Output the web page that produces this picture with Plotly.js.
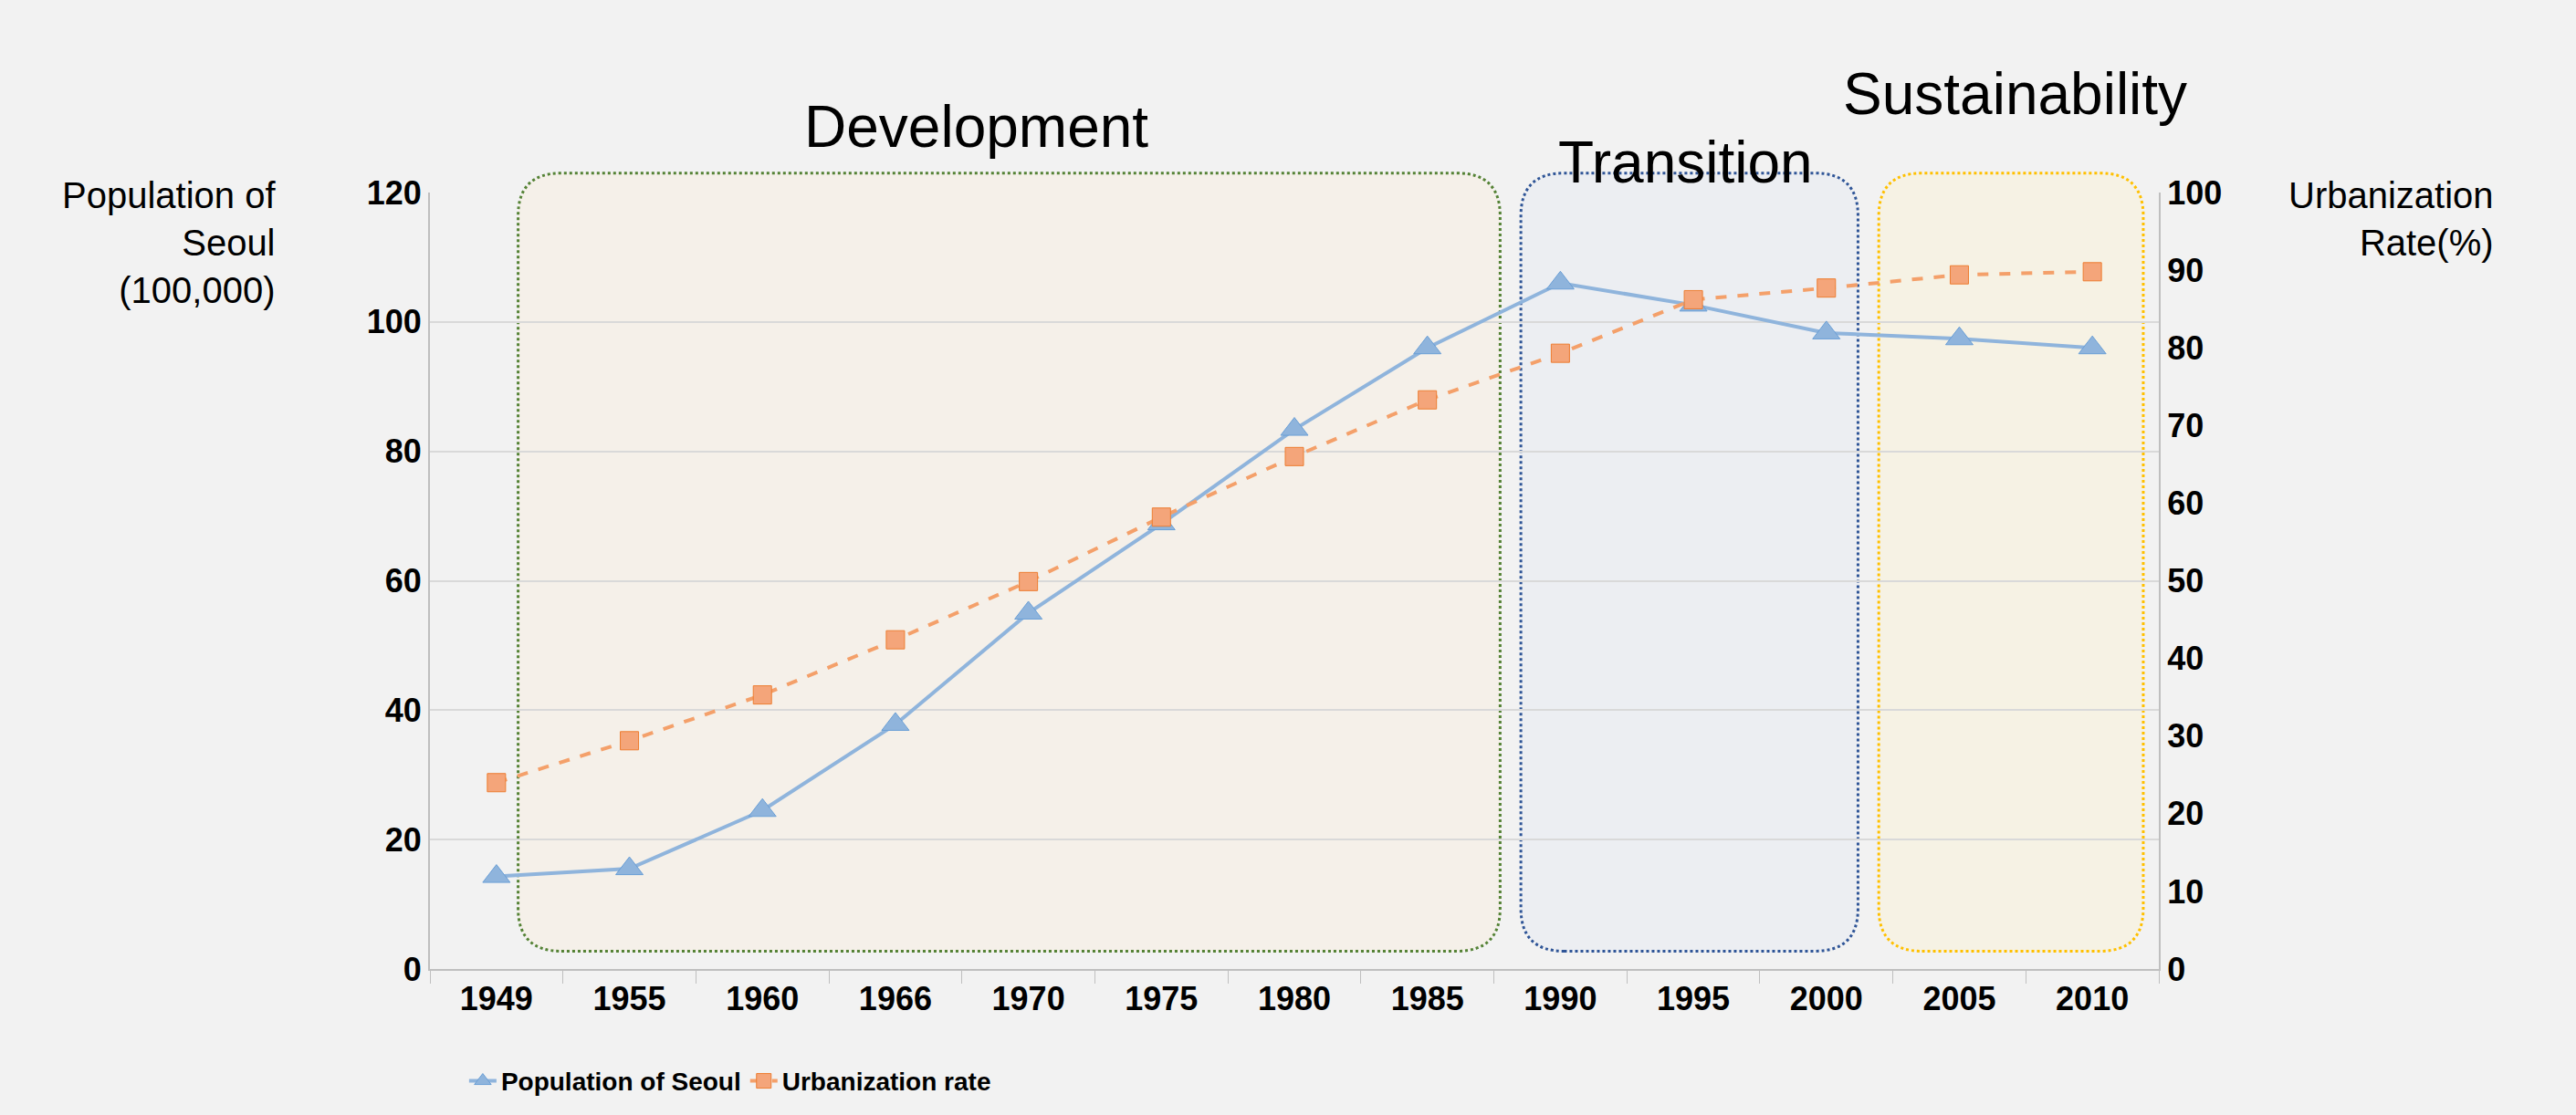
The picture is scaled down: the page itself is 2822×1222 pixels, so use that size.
<!DOCTYPE html>
<html>
<head>
<meta charset="utf-8">
<script src="https://cdn.plot.ly/plotly-3.0.1.min.js"></script>
<style>body{margin:0;background:#f2f2f2;}</style>
</head>
<body>
<div id="chart" style="width:2822px;height:1222px;"></div>
<script>
var years = ['1949','1955','1960','1966','1970','1975','1980','1985','1990','1995','2000','2005','2010'];
var population = [14.3, 15.5, 24.5, 37.8, 55, 68.8, 83.4, 96, 106, 102.6, 98.3, 97.4, 96];
var urbanRate = [24, 29.4, 35.3, 42.4, 49.9, 58.2, 66, 73.3, 79.3, 86.2, 87.7, 89.4, 89.8];

function roundBox(x0, x1, y0, y1, fill, line) {
  var rx = 0.025, ry = 0.055;
  var p = 'M ' + (x0 + rx) + ' ' + y0 + ' L ' + (x1 - rx) + ' ' + y0 +
    ' Q ' + x1 + ' ' + y0 + ' ' + x1 + ' ' + (y0 + ry) +
    ' L ' + x1 + ' ' + (y1 - ry) + ' Q ' + x1 + ' ' + y1 + ' ' + (x1 - rx) + ' ' + y1 +
    ' L ' + (x0 + rx) + ' ' + y1 + ' Q ' + x0 + ' ' + y1 + ' ' + x0 + ' ' + (y1 - ry) +
    ' L ' + x0 + ' ' + (y0 + ry) + ' Q ' + x0 + ' ' + y0 + ' ' + (x0 + rx) + ' ' + y0 + ' Z';
  return {type: 'path', xref: 'paper', yref: 'paper', path: p, layer: 'below',
    fillcolor: fill, line: {color: line, width: 3, dash: 'dot'}};
}

var data = [{
  x: years, y: population, name: 'Population of Seoul', type: 'scatter', mode: 'lines+markers',
  line: {color: '#8fb4dc', width: 4},
  marker: {symbol: 'triangle-up', size: 26, color: '#8fb4dc', line: {color: '#6a9fd6', width: 1}}
}, {
  x: years, y: urbanRate, name: 'Urbanization rate', yaxis: 'y2', type: 'scatter', mode: 'lines+markers',
  line: {color: '#f4a06a', width: 4, dash: 'dash'},
  marker: {symbol: 'square', size: 20, color: '#f4a57a', line: {color: '#ed7d31', width: 1}}
}];

var tickFont = {family: 'Liberation Sans, Arial', size: 36, color: '#000', weight: 'bold'};

var layout = {
  width: 2822, height: 1222,
  paper_bgcolor: '#f2f2f2', plot_bgcolor: 'rgba(0,0,0,0)',
  margin: {l: 471, r: 457, t: 211, b: 149},
  font: {family: 'Liberation Sans, Arial', color: '#000'},
  xaxis: {type: 'category', range: [-0.5, 12.5], tickson: 'boundaries', ticks: 'outside', ticklen: 14, tickcolor: '#bfbfbf',
    showline: true, linecolor: '#bfbfbf', linewidth: 2, showgrid: false, tickfont: tickFont},
  yaxis: {range: [0, 120], dtick: 20, showgrid: true, gridcolor: '#d9d9d9', gridwidth: 2,
    showline: true, linecolor: '#bfbfbf', linewidth: 2, tickfont: tickFont, ticks: '', zeroline: false},
  yaxis2: {range: [0, 100], dtick: 10, overlaying: 'y', side: 'right', showgrid: false,
    showline: true, linecolor: '#bfbfbf', linewidth: 2, tickfont: tickFont, zeroline: false},
  showlegend: true,
  legend: {orientation: 'h', x: 0.02, y: -0.115, xanchor: 'left', yanchor: 'top', bgcolor: 'rgba(0,0,0,0)',
    font: {size: 28, weight: 'bold'}},
  shapes: [
    roundBox(0.051, 0.619, 0.023, 1.025, '#f5f0e9', '#548235'),
    roundBox(0.631, 0.826, 0.023, 1.025, '#eceef2', '#2f5597'),
    roundBox(0.838, 0.991, 0.023, 1.025, '#f6f2e4', '#ffc000')
  ],
  annotations: [
    {text: 'Development', xref: 'paper', yref: 'paper', x: 0.316, y: 1.129, xanchor: 'center', showarrow: false, font: {size: 64}},
    {text: 'Transition', xref: 'paper', yref: 'paper', x: 0.726, y: 1.083, xanchor: 'center', showarrow: false, font: {size: 64}},
    {text: 'Sustainability', xref: 'paper', yref: 'paper', x: 0.917, y: 1.171, xanchor: 'center', showarrow: false, font: {size: 64}},
    {text: 'Population of<br>Seoul<br>(100,000)', xref: 'paper', yref: 'paper', x: -0.088, y: 1.025,
      xanchor: 'right', yanchor: 'top', align: 'right', showarrow: false, font: {size: 40}},
    {text: 'Urbanization<br>Rate(%)', xref: 'paper', yref: 'paper', x: 1.195, y: 1.025,
      xanchor: 'right', yanchor: 'top', align: 'right', showarrow: false, font: {size: 40}}
  ]
};

Plotly.newPlot('chart', data, layout, {displayModeBar: false});
</script>
</body>
</html>
